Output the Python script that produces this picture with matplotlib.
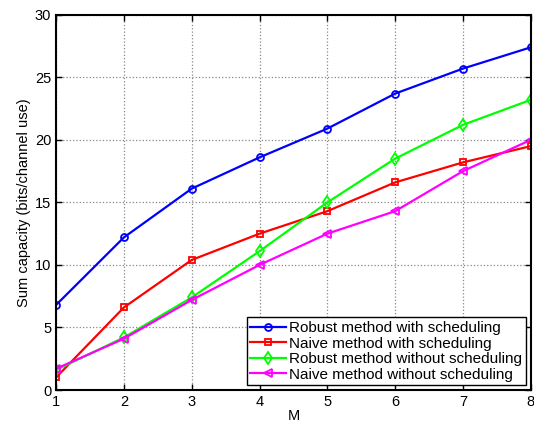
import matplotlib
matplotlib.use('Agg')
import matplotlib.pyplot as plt

M = [1, 2, 3, 4, 5, 6, 7, 8]
robust_sched = [6.8, 12.2, 16.1, 18.6, 20.9, 23.7, 25.7, 27.4]
naive_sched = [1.0, 6.6, 10.4, 12.5, 14.3, 16.6, 18.2, 19.5]
robust_nosched = [1.6, 4.2, 7.4, 11.1, 15.0, 18.5, 21.2, 23.2]
naive_nosched = [1.7, 4.1, 7.2, 10.0, 12.5, 14.3, 17.5, 20.0]

plt.rcParams['font.family'] = ['Liberation Sans', 'DejaVu Sans']
plt.rcParams['font.size'] = 10.5

fig = plt.figure(figsize=(5.34, 4.23), dpi=100)
ax = fig.add_axes([0.105, 0.078, 0.889, 0.887])

ax.plot(M, robust_sched, 'b-o', lw=1.6, ms=5, mfc='none', mew=1.3,
        label='Robust method with scheduling')
ax.plot(M, naive_sched, 'r-s', lw=1.6, ms=4.5, mfc='none', mew=1.3,
        label='Naive method with scheduling')
ax.plot(M, robust_nosched, '-d', color='#00ff00', lw=1.6, ms=6, mfc='none', mew=1.3,
        label='Robust method without scheduling')
ax.plot(M, naive_nosched, '-<', color='#ff00ff', lw=1.6, ms=6, mfc='none', mew=1.3,
        label='Naive method without scheduling')

ax.set_xlim(1, 8)
ax.set_ylim(0, 30)
ax.set_xticks(M)
ax.set_yticks(range(0, 31, 5))
ax.grid(True, linestyle=':', color='#888888', lw=0.9)
ax.tick_params(direction='in', length=4, width=1, top=True, right=True, labelsize=10.5)
for s in ax.spines.values():
    s.set_linewidth(1.5)

ax.set_xlabel('M', labelpad=0)
ax.set_ylabel('Sum capacity (bits/channel use)', labelpad=3)

leg = ax.legend(loc='lower right', fontsize=11, fancybox=False, framealpha=1,
                edgecolor='black', borderpad=0.25, labelspacing=0.1,
                handlelength=2.3, handletextpad=0.25, borderaxespad=0.3)
leg.get_frame().set_linewidth(1.0)

fig.savefig('out.png', dpi=100)
